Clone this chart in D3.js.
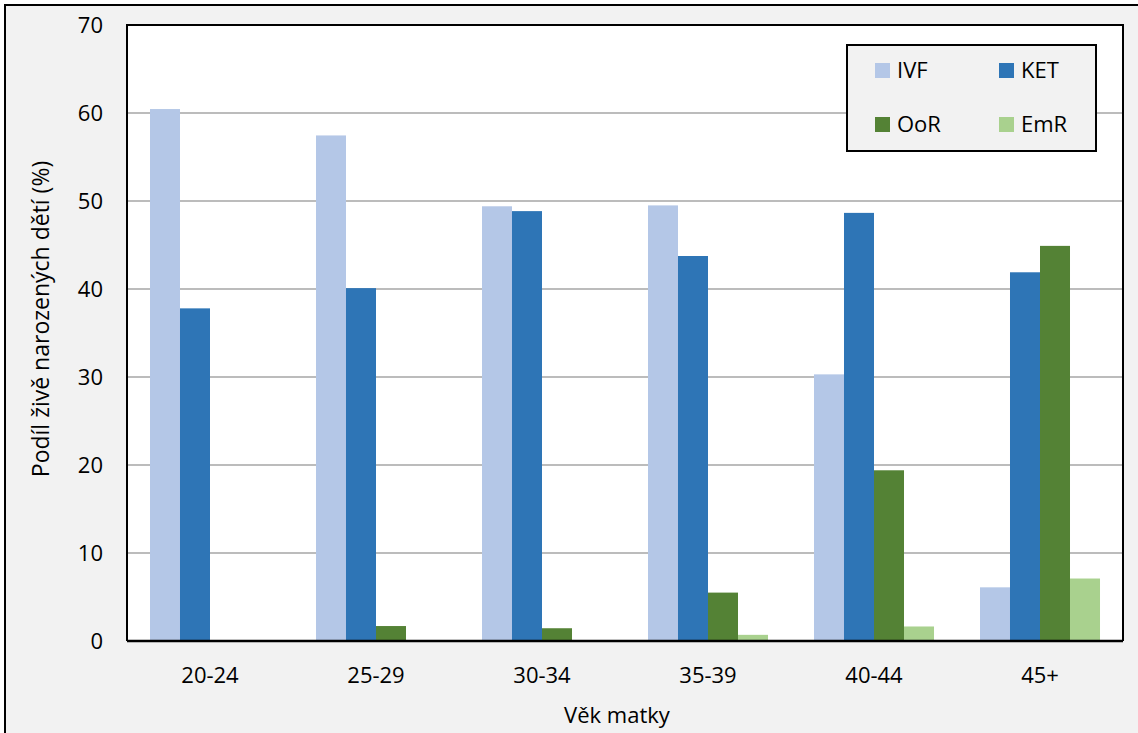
<!DOCTYPE html>
<html>
<head>
<meta charset="utf-8">
<script src="https://cdn.jsdelivr.net/npm/d3@7/dist/d3.min.js"></script>
<style>
  html, body { margin: 0; padding: 0; background: #ffffff; }
  svg { display: block; }
  text { font-family: "Open Sans", "Noto Sans", sans-serif; fill: #000; }
</style>
</head>
<body>
<svg id="chart" width="1138" height="733"></svg>
<script>
// ---- data ----
const categories = ["20-24", "25-29", "30-34", "35-39", "40-44", "45+"];
const seriesNames = ["IVF", "KET", "OoR", "EmR"];
const ivf = [60.45, 57.45, 49.4, 49.5, 30.3, 6.1];
const ket = [37.8, 40.1, 48.85, 43.75, 48.65, 41.9];
const oor = [0, 1.7, 1.45, 5.5, 19.4, 44.9];
const emr = [0, 0, 0.1, 0.7, 1.65, 7.1];
const yTicks = [0, 10, 20, 30, 40, 50, 60, 70];
const colors = ["#b4c7e7", "#2e75b6", "#548235", "#a9d18e"];
const yTitle = "Podíl živě narozených dětí (%)";
const xTitle = "Věk matky";

const seriesValues = [ivf, ket, oor, emr];

const svg = d3.select("#chart");
const W = 1138, H = 733;
const plot = { left: 127, right: 1123, top: 25, bottom: 641 };

// outer chart area
svg.append("rect").attr("x", 0).attr("y", 0).attr("width", W).attr("height", H).attr("fill", "#ffffff");
svg.append("rect").attr("x", 5).attr("y", 5).attr("width", W + 10).attr("height", H + 10)
  .attr("fill", "#f2f2f2").attr("stroke", "#000").attr("stroke-width", 2);

// scales
const x0 = d3.scaleBand().domain(categories).range([plot.left, plot.right])
  .paddingInner(0.277).paddingOuter(0.1385);
const x1 = d3.scaleBand().domain(seriesNames).range([0, x0.bandwidth()]);
const y = d3.scaleLinear().domain([0, 70]).range([plot.bottom, plot.top]);

// plot area
svg.append("rect").attr("x", plot.left).attr("y", plot.top)
  .attr("width", plot.right - plot.left).attr("height", plot.bottom - plot.top)
  .attr("fill", "#ffffff");

// gridlines
svg.append("g").selectAll("line").data(yTicks.filter(d => d > 0 && d < 70)).join("line")
  .attr("x1", plot.left).attr("x2", plot.right)
  .attr("y1", d => y(d)).attr("y2", d => y(d))
  .attr("stroke", "#a6a6a6").attr("stroke-width", 1.5);

// bars
const rows = categories.map((c, i) => ({ cat: c, vals: seriesNames.map((s, j) => ({ s, j, v: seriesValues[j][i] })) }));
const g = svg.append("g").selectAll("g").data(rows).join("g")
  .attr("transform", d => `translate(${x0(d.cat)},0)`);
g.selectAll("rect").data(d => d.vals.filter(v => v.v > 0)).join("rect")
  .attr("x", d => x1(d.s)).attr("width", x1.bandwidth())
  .attr("y", d => y(d.v)).attr("height", d => y(0) - y(d.v))
  .attr("fill", d => colors[d.j]);

// plot border (top, left, right) and x axis line
svg.append("path")
  .attr("d", `M${plot.left},${plot.bottom}V${plot.top}H${plot.right}V${plot.bottom}`)
  .attr("fill", "none").attr("stroke", "#000").attr("stroke-width", 2);
svg.append("line").attr("x1", plot.left).attr("x2", plot.right)
  .attr("y1", plot.bottom).attr("y2", plot.bottom)
  .attr("stroke", "#000").attr("stroke-width", 2.5);

// y axis labels
const yAxis = d3.axisLeft(y).tickValues(yTicks).tickSize(0).tickPadding(24).tickFormat(d3.format("d"));
const ya = svg.append("g").attr("transform", `translate(${plot.left},0)`).call(yAxis);
ya.select(".domain").remove();
ya.selectAll("text").style("font-size", "22px").style("font-family", '"Open Sans", sans-serif').attr("fill", "#000");

// x axis labels
const xAxis = d3.axisBottom(x0).tickSize(0).tickPadding(26);
const xa = svg.append("g").attr("transform", `translate(0,${plot.bottom})`).call(xAxis);
xa.select(".domain").remove();
xa.selectAll("text").style("font-size", "22px").style("font-family", '"Open Sans", sans-serif').attr("fill", "#000");

// axis titles
svg.append("text").attr("transform", `translate(49,319) rotate(-90)`)
  .attr("text-anchor", "middle").style("font-size", "23px").text(yTitle);
svg.append("text").attr("x", 617).attr("y", 723).attr("text-anchor", "middle")
  .style("font-size", "22px").text(xTitle);

// legend
const lg = svg.append("g");
lg.append("rect").attr("x", 847).attr("y", 45).attr("width", 249).attr("height", 106)
  .attr("fill", "#f2f2f2").attr("stroke", "#000").attr("stroke-width", 2);
const legPos = [[875, 63], [999, 63], [875, 117], [999, 117]];
seriesNames.forEach((s, i) => {
  lg.append("rect").attr("x", legPos[i][0]).attr("y", legPos[i][1]).attr("width", 15).attr("height", 15)
    .attr("fill", colors[i]);
  lg.append("text").attr("x", legPos[i][0] + 22).attr("y", legPos[i][1] + 15)
    .style("font-size", "22px").text(s);
});
</script>
</body>
</html>
